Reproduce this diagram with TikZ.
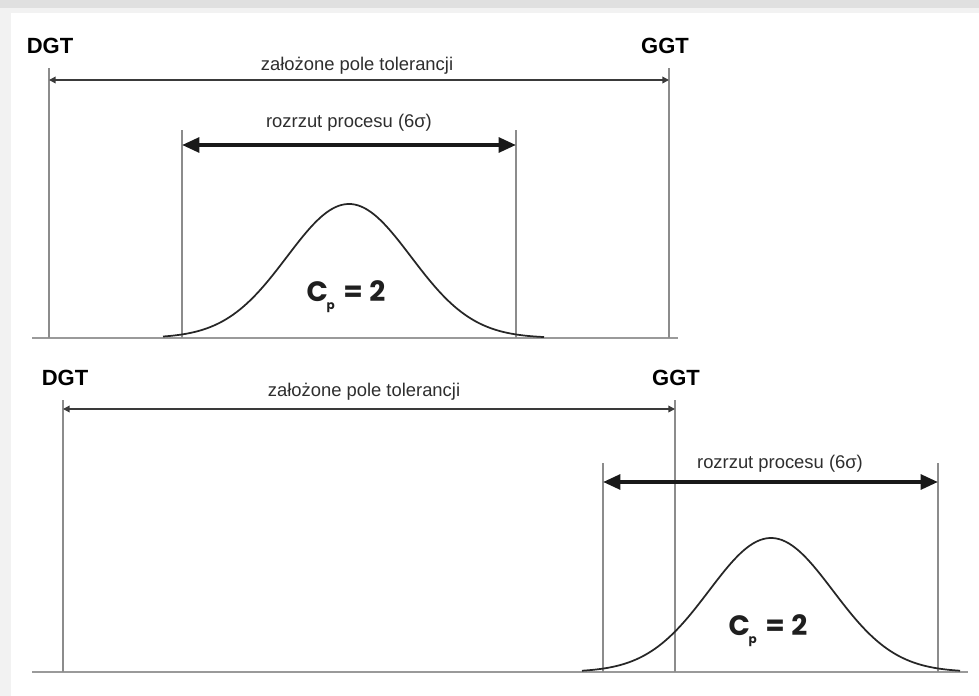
\documentclass[tikz,border=0pt]{standalone}
\usepackage{fontspec}
\setmainfont{Liberation Sans}
\newfontfamily\cpfont{Poppins}
\usetikzlibrary{arrows.meta}
\definecolor{vline}{HTML}{8C8C8C}
\definecolor{bline}{HTML}{9A9A9A}
\definecolor{tolc}{HTML}{3A3A3A}
\tikzset{
  tlabel/.style={font=\bfseries\fontsize{16.5}{18}\selectfont, inner sep=0pt},
  slabel/.style={font=\fontsize{13.8}{15}\selectfont, text=black!82, inner sep=0pt},
  cplabel/.style={font=\cpfont\bfseries\fontsize{21}{22}\selectfont, text=black!88, inner sep=0pt},
  limline/.style={draw=vline, line width=1.4pt},
  baseln/.style={draw=bline, line width=1.8pt},
  tolarrow/.style={draw=tolc, line width=1.1pt, {Triangle[length=5pt,width=5pt]}-{Triangle[length=5pt,width=5pt]}},
  sprarrow/.style={draw=black!90, line width=2.8pt, {Triangle[length=13pt,width=11pt]}-{Triangle[length=13pt,width=11pt]}},
  bell/.style={draw=black!85, line width=1.3pt},
}
\begin{document}
\begin{tikzpicture}[x=0.75pt,y=-0.75pt]
\useasboundingbox (0,0) rectangle (979,696);
\fill[black!12] (0,0) rectangle (979,696);
\fill[black!5] (0,8) rectangle (979,696);
\fill[white] (11,13) rectangle (979,696);

% ---------- top panel ----------
\node[tlabel] (dgt1) at (50,46) {DGT};
\node[tlabel] (ggt1) at (665,46) {GGT};
\coordinate (d1t) at (49,68);  \coordinate (d1b) at (49,338);
\coordinate (g1t) at (669,68); \coordinate (g1b) at (669,338);
\coordinate (l1t) at (182,130); \coordinate (l1b) at (182,338);
\coordinate (r1t) at (516,130); \coordinate (r1b) at (516,338);
\coordinate (b1l) at (32,338); \coordinate (b1r) at (678,338);
\coordinate (t1l) at (49,80); \coordinate (t1r) at (669,80);
\coordinate (s1l) at (182,145); \coordinate (s1r) at (516,145);
\draw[baseln] (b1l) -- (b1r);
\draw[limline] (d1t) -- (d1b);
\draw[limline] (g1t) -- (g1b);
\draw[limline] (l1t) -- (l1b);
\draw[limline] (r1t) -- (r1b);
\draw[tolarrow] (t1l) -- (t1r);
\draw[sprarrow] (s1l) -- (s1r);
\node[slabel] (tol1) at (357,66) {założone pole tolerancji};
\node[slabel] (spr1) at (349,123) {rozrzut procesu (6σ)};
\draw[bell] plot[domain=163:544, samples=120] (\x,{338-134*exp(-0.5*((\x-349)/62)^2)});
\node[cplabel] (cp1) at (346,297) {C\kern-1pt\raisebox{-0.5ex}{\fontsize{9}{9}\selectfont p}\kern6.5pt=\kern5pt2};

% ---------- bottom panel ----------
\node[tlabel] (dgt2) at (65,378) {DGT};
\node[tlabel] (ggt2) at (676,378) {GGT};
\coordinate (d2t) at (63,400);  \coordinate (d2b) at (63,672);
\coordinate (g2t) at (675,400); \coordinate (g2b) at (675,672);
\coordinate (l2t) at (603,463); \coordinate (l2b) at (603,672);
\coordinate (r2t) at (938,463); \coordinate (r2b) at (938,672);
\coordinate (b2l) at (32,672); \coordinate (b2r) at (968,672);
\coordinate (t2l) at (63,409); \coordinate (t2r) at (675,409);
\coordinate (s2l) at (603,482); \coordinate (s2r) at (938,482);
\draw[baseln] (b2l) -- (b2r);
\draw[limline] (d2t) -- (d2b);
\draw[limline] (g2t) -- (g2b);
\draw[limline] (l2t) -- (l2b);
\draw[limline] (r2t) -- (r2b);
\draw[tolarrow] (t2l) -- (t2r);
\draw[sprarrow] (s2l) -- (s2r);
\node[slabel] (tol2) at (364,392) {założone pole tolerancji};
\node[slabel] (spr2) at (780,464) {rozrzut procesu (6σ)};
\draw[bell] plot[domain=582:960, samples=120] (\x,{672-134*exp(-0.5*((\x-771)/62)^2)});
\node[cplabel] (cp2) at (768,631) {C\kern-1pt\raisebox{-0.5ex}{\fontsize{9}{9}\selectfont p}\kern6.5pt=\kern5pt2};
\end{tikzpicture}
\end{document}
